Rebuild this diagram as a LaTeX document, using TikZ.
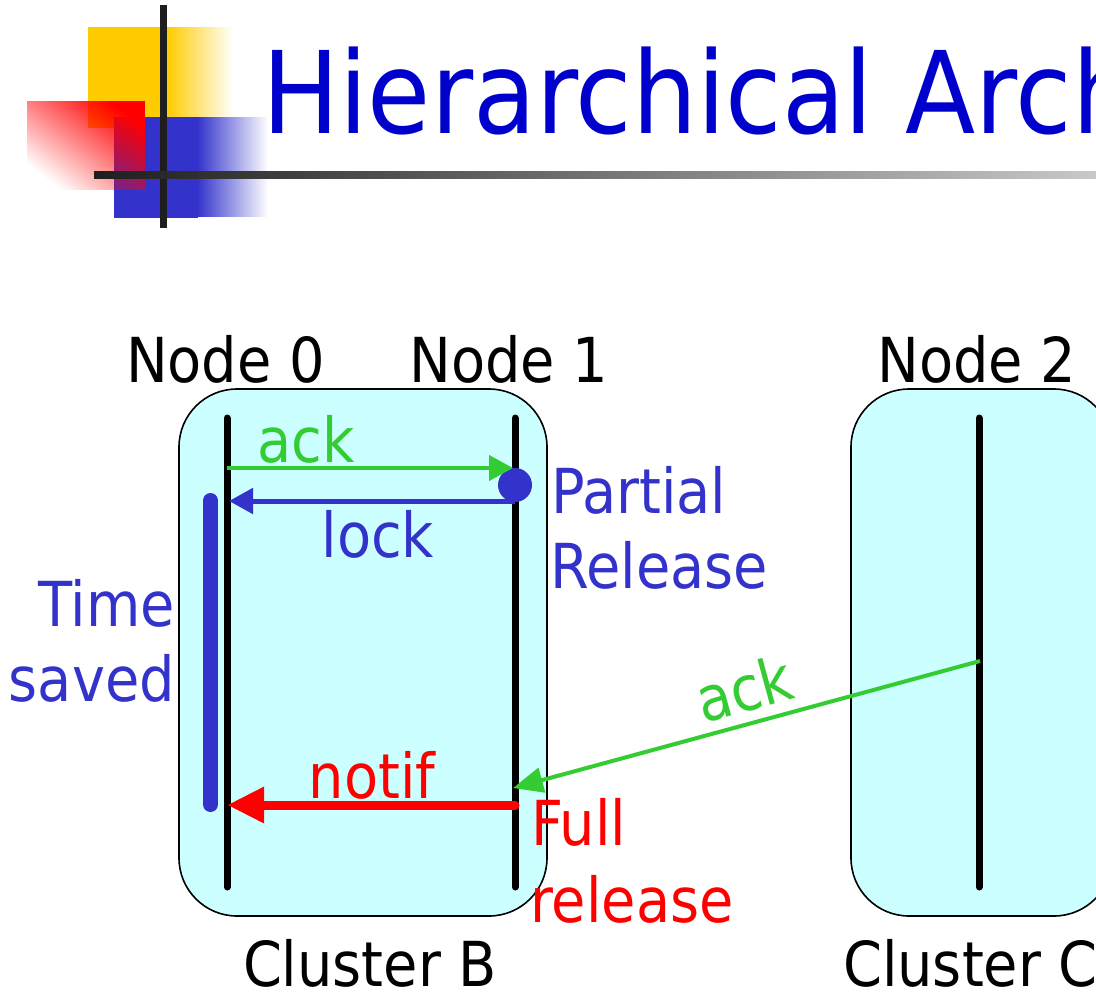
\documentclass[tikz,border=0pt]{standalone}
\usepackage{fontspec}
\setmainfont{DejaVu Sans Condensed}
\usetikzlibrary{arrows.meta,fadings}

\definecolor{clfill}{HTML}{CCFFFF}
\definecolor{ackgreen}{HTML}{33CC33}
\definecolor{lockblue}{HTML}{3333CC}
\definecolor{titleblue}{HTML}{0000CC}
\definecolor{logoyellow}{HTML}{FFCC00}
\definecolor{logoblue}{HTML}{3333CC}
\definecolor{barblack}{HTML}{1E1E1E}
\definecolor{rulelight}{HTML}{C8C8C8}

% red square of the logo: transparent at the left, opaque at the right
\tikzfading[name=redfade, left color=transparent!100, right color=transparent!0]

\tikzset{
  cluster/.style={draw=black, line width=1.6pt, fill=clfill, rounded corners=58pt, inner sep=0pt},
  lifeline/.style={line width=7pt, line cap=round},
  lbl/.style={font=\fontsize{62}{75}\selectfont, inner sep=0pt},
  msgthin/.style={line width=4pt, -{Triangle[length=24pt,width=25pt]}},
  msgthick/.style={line width=9pt, line cap=round, -{Triangle[length=37pt,width=34pt]}},
}

\begin{document}
\begin{tikzpicture}[x=1pt,y=-1pt]
\useasboundingbox (0,0) rectangle (1096,994);
\clip (0,0) rectangle (1096,994);
\fill[white] (0,0) rectangle (1096,994);

% ---------- logo ----------
\fill[logoyellow] (88,27) rectangle (168,128);
\shade[left color=logoyellow, right color=white] (167,27) rectangle (233,128);
\fill[logoblue] (114,117) rectangle (198,218);
\shade[left color=logoblue, right color=white] (197,117) rectangle (268,216);
\fill[red, path fading=redfade, fading angle=45] (27,101) rectangle (145,190);
\fill[barblack] (160,5) rectangle (167,228);
\shade[left color=barblack, right color=rulelight] (94,171) rectangle (1096,178);

% ---------- title ----------
\node[anchor=base west, inner sep=0pt, font=\fontsize{114}{130}\selectfont, text=titleblue]
  (title) at (262,133) {Hierarchical Architecture};

% ---------- clusters ----------
\node[cluster, minimum width=368pt, minimum height=527pt] (clusterB) at (363,652.5) {};
\node[cluster, minimum width=261pt, minimum height=527pt] (clusterC) at (981.5,652.5) {};

% ---------- node labels ----------
\node[lbl, anchor=base] (lab0) at (225.5,382) {Node 0};
\node[lbl, anchor=base] (lab1) at (509,382) {Node 1};
\node[lbl, anchor=base] (lab2) at (977,382) {Node 2};
\node[lbl, anchor=base] (labB) at (370,986) {Cluster B};
\node[lbl, anchor=base west] (labC) at (843,986) {Cluster C};

% ---------- lifelines ----------
\coordinate (n0top) at (227,418);
\coordinate (n0bot) at (227,887);
\coordinate (n1top) at (515,418);
\coordinate (n1bot) at (515,887);
\coordinate (n2top) at (979,418);
\coordinate (n2bot) at (979,887);
\draw[lifeline] (n0top) -- (n0bot);
\draw[lifeline] (n1top) -- (n1bot);
\draw[lifeline] (n2top) -- (n2bot);

% time saved bar
\coordinate (bartop) at (210.5,500.5);
\coordinate (barbot) at (210.5,804.5);
\draw[lockblue, line width=15pt, line cap=round] (bartop) -- (barbot);

% partial release point
\node[circle, fill=lockblue, minimum size=34pt, inner sep=0pt] (partial) at (515,485) {};

% ---------- messages ----------
\coordinate (ackA) at (227,468);
\coordinate (ackB) at (513,468);
\draw[ackgreen, msgthin] (ackA) -- (ackB);

\coordinate (lockA) at (515,501);
\coordinate (lockB) at (229,501);
\draw[lockblue, msgthin, line width=5pt] (lockA) -- (lockB);

\coordinate (ackC) at (980,661);
\coordinate (ackD) at (513,788);
\draw[ackgreen, line width=4pt, -{Triangle[length=30pt,width=25pt]}] (ackC) -- (ackD);

\coordinate (notifA) at (515,805);
\coordinate (notifB) at (227,805);
\draw[red, msgthick] (notifA) -- (notifB);

% ---------- message labels ----------
\node[lbl, anchor=base, text=ackgreen] (acktxt) at (306,462) {ack};
\node[lbl, anchor=base, text=lockblue] (locktxt) at (378,557) {lock};
\node[lbl, anchor=base, text=red] (notiftxt) at (372,798) {notif};
\node[lbl, anchor=base, text=ackgreen, rotate=15.3] (ack2txt) at (750,711) {ack};

\node[lbl, anchor=base west, text=lockblue] (pr1) at (551,513) {Partial};
\node[lbl, anchor=base west, text=lockblue] (pr2) at (550,588) {Release};
\node[lbl, anchor=base east, text=lockblue] (ts1) at (175,626) {Time};
\node[lbl, anchor=base east, text=lockblue] (ts2) at (175,701) {saved};
\node[lbl, anchor=base west, text=red] (fr1) at (531,845) {Full};
\node[lbl, anchor=base west, text=red] (fr2) at (530,922) {release};
\end{tikzpicture}
\end{document}
